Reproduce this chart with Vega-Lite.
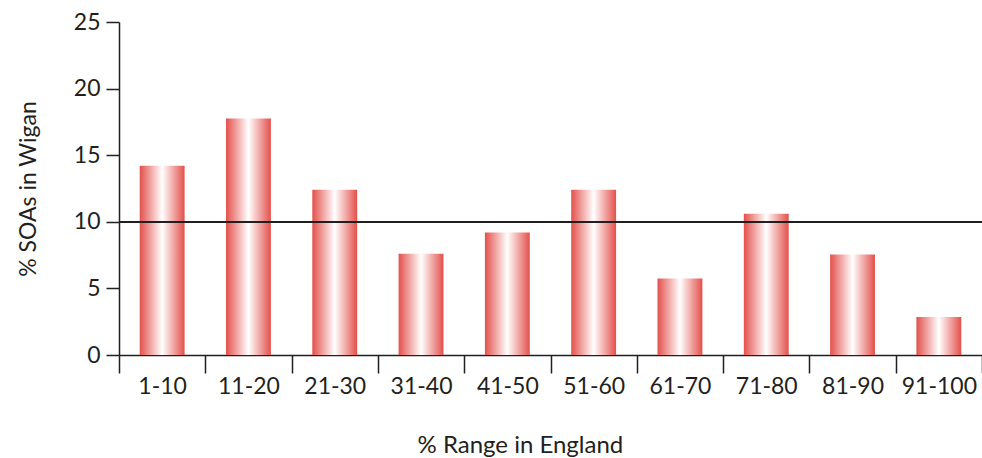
{
  "$schema": "https://vega.github.io/schema/vega-lite/v6.json",
  "autosize": "none",
  "width": 863,
  "height": 333,
  "padding": {"left": 119, "top": 22, "right": 0, "bottom": 103},
  "background": "white",
  "config": {
    "view": {"stroke": null},
    "font": "Lato",
    "axis": {
      "labelFont": "Lato",
      "titleFont": "Lato",
      "labelColor": "#231f20",
      "titleColor": "#231f20",
      "domainColor": "#231f20",
      "tickColor": "#231f20",
      "labelFontSize": 23,
      "titleFontSize": 23,
      "titleFontWeight": "normal",
      "grid": false,
      "domainWidth": 1.5,
      "tickWidth": 1.5
    }
  },
  "data": {
    "values": [
      {"range": "1-10", "pct": 14.2},
      {"range": "11-20", "pct": 17.75},
      {"range": "21-30", "pct": 12.4},
      {"range": "31-40", "pct": 7.6},
      {"range": "41-50", "pct": 9.2},
      {"range": "51-60", "pct": 12.4},
      {"range": "61-70", "pct": 5.75},
      {"range": "71-80", "pct": 10.6},
      {"range": "81-90", "pct": 7.55},
      {"range": "91-100", "pct": 2.85}
    ]
  },
  "layer": [
    {
      "mark": {
        "type": "bar",
        "width": {"band": 0.52},
        "color": {
          "gradient": "linear",
          "x1": 0, "x2": 1, "y1": 0, "y2": 0,
          "stops": [
            {"offset": 0, "color": "#e3504b"},
            {"offset": 0.5, "color": "#ffffff"},
            {"offset": 1, "color": "#e3504b"}
          ]
        }
      },
      "encoding": {
        "x": {
          "field": "range",
          "type": "nominal",
          "sort": null,
          "scale": {"paddingInner": 0, "paddingOuter": 0},
          "axis": {
            "title": "% Range in England",
            "titleFontSize": 24,
            "labelAngle": 0,
            "tickBand": "extent",
            "tickSize": 18,
            "labelPadding": 2,
            "titlePadding": 35,
            "titleAnchor": "start",
            "titleX": 298
          }
        },
        "y": {
          "field": "pct",
          "type": "quantitative",
          "scale": {"domain": [0, 25], "nice": false},
          "axis": {
            "title": "% SOAs in Wigan",
            "values": [0, 5, 10, 15, 20, 25],
            "tickSize": 13,
            "labelPadding": 6,
            "titlePadding": 33
          }
        }
      }
    },
    {
      "mark": {"type": "rule", "color": "#231f20", "strokeWidth": 1.8},
      "encoding": {
        "y": {"datum": 10, "type": "quantitative"}
      }
    }
  ]
}
